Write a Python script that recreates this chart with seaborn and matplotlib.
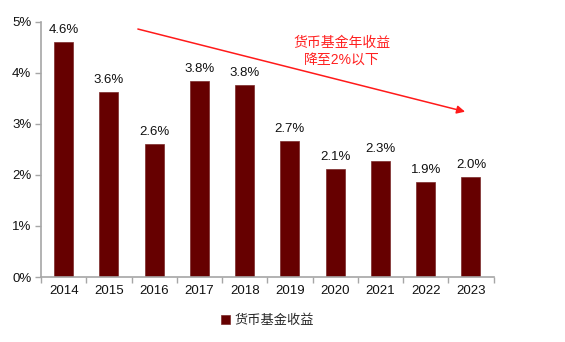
import matplotlib
matplotlib.use("Agg")
import matplotlib.pyplot as plt
import seaborn as sns
import pandas as pd
import numpy as np
from matplotlib.ticker import FixedLocator

years = ["2014", "2015", "2016", "2017", "2018", "2019", "2020", "2021", "2022", "2023"]
yields_pct = [4.61, 3.63, 2.61, 3.84, 3.76, 2.67, 2.12, 2.27, 1.86, 1.96]
series_name = "货币基金收益"
note_text = "货币基金年收益\n降至2%以下"
y_ticks = [0, 1, 2, 3, 4, 5]

sns.set_theme(style="white")
plt.rcParams["font.family"] = ["Liberation Sans", "Noto Sans CJK SC", "DejaVu Sans"]

df = pd.DataFrame({"year": years, "value": yields_pct, "series": series_name})

fig = plt.figure(figsize=(5.65, 3.42), dpi=100)
ax = fig.add_axes([0.0726, 0.190, 0.801, 0.746])

bar_color = "#660000"
sns.barplot(data=df, x="year", y="value", hue="series", palette=[bar_color],
            saturation=1, width=0.42, ax=ax, legend=True,
            edgecolor="#7a2a2a", linewidth=0.5)

ax.set_xlim(-0.5, len(years) - 0.5)
ax.set_ylim(0, 5)
ax.set_yticks(y_ticks)
ax.set_yticklabels([f"{t}%" for t in y_ticks])
ax.set_xlabel("")
ax.set_ylabel("")

# value labels
for i, v in enumerate(yields_pct):
    ax.text(i, v + 0.12, f"{v:.1f}%", ha="center", va="bottom", fontsize=9.5, color="#111111")

# spines and ticks
for s in ["top", "right"]:
    ax.spines[s].set_visible(False)
for s in ["left", "bottom"]:
    ax.spines[s].set_color("#a6a6a6")
    ax.spines[s].set_linewidth(1.2)
ax.tick_params(axis="y", which="major", left=True, length=4, width=1, color="#a6a6a6",
               labelsize=9.5, labelcolor="#111111", pad=3)
ax.tick_params(axis="x", which="major", length=0, labelsize=9.5, labelcolor="#111111", pad=6)
ax.xaxis.set_minor_locator(FixedLocator(np.arange(-0.5, len(years), 1.0)))
ax.tick_params(axis="x", which="minor", bottom=True, length=4, width=1, color="#a6a6a6")

# trend arrow and note
ax.annotate("", xy=(8.87, 3.24), xytext=(1.64, 4.86),
            arrowprops=dict(arrowstyle="-|>", color="#ff1a1a", lw=1.1,
                            mutation_scale=12, shrinkA=0, shrinkB=0))
ax.text(6.14, 4.72, note_text, ha="center", va="top", color="#ff2020",
        fontsize=10, linespacing=1.25)

leg = ax.legend(loc="upper center", bbox_to_anchor=(0.5, -0.10), frameon=False,
                fontsize=9.5, handlelength=0.7, handleheight=0.7, handletextpad=0.3)

fig.savefig("out.png", dpi=100, facecolor="white")
